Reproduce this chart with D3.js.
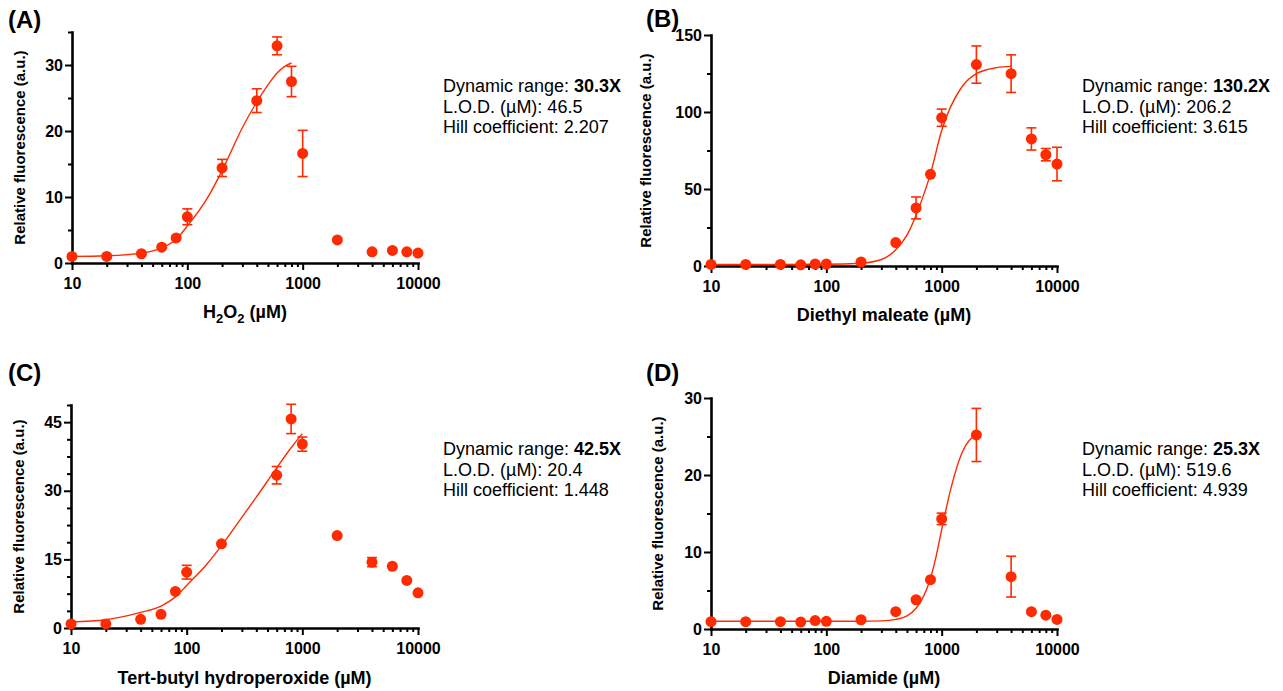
<!DOCTYPE html>
<html>
<head>
<meta charset="utf-8">
<script src="https://cdnjs.cloudflare.com/ajax/libs/d3/7.8.5/d3.min.js"></script>
<style>
  body { margin: 0; background: #fff; }
  svg { display: block; font-family: "Liberation Sans", Arial, sans-serif; }
</style>
</head>
<body>
<div id="chart"></div>
<script>
// concentrations (uM), same for every panel
const conc = [10, 20, 40, 60, 80, 100, 200, 400, 600, 800, 1000, 2000, 4000, 6000, 8000, 10000];

// (A) H2O2
const valuesA = [1.0, 1.0, 1.4, 2.4, 3.8, 7.0, 14.4, 24.6, 32.9, 27.5, 16.6, 3.5, 1.7, 1.9, 1.7, 1.5];
const errorsA = [0, 0, 0, 0, 0, 1.2, 1.3, 1.8, 1.35, 2.3, 3.5, 0, 0, 0, 0, 0];
const fitXA = [10, 20, 40, 60, 80, 100, 150, 200, 300, 400, 500, 600, 700, 800];
const fitYA = [1.0, 1.1, 1.5, 2.3, 3.6, 5.6, 9.9, 14.0, 20.5, 24.4, 27.0, 28.8, 29.8, 30.3];

// (B) Diethyl maleate
const valuesB = [1.0, 1.0, 1.0, 0.8, 1.3, 1.3, 2.6, 15.2, 37.7, 59.5, 96.3, 130.8, 124.9, 82.5, 72.3, 66.2];
const errorsB = [0, 0, 0, 0, 0, 0, 0, 0, 7.1, 0, 5.6, 12.1, 12.2, 7.2, 4.0, 10.9];
const fitXB = [10, 100, 200, 300, 400, 500, 600, 700, 800, 1000, 1500, 2000, 3000, 4000];
const fitYB = [1.0, 1.1, 1.8, 4.2, 10.5, 20.0, 33.0, 46.5, 60.0, 88.0, 116.4, 124.9, 128.8, 129.6];

// (C) Tert-butyl hydroperoxide
const valuesC = [0.9, 0.9, 1.9, 3.0, 8.0, 12.2, 18.4, null, 33.4, 45.7, 40.2, 20.2, 14.4, 13.5, 10.4, 7.7];
const errorsC = [0, 0, 0, 0, 0, 1.5, 0, 0, 1.9, 3.2, 1.55, 0, 1.0, 0, 0, 0];
const fitXC = [10, 20, 40, 60, 80, 100, 150, 200, 300, 400, 600, 800, 1000];
const fitYC = [1.3, 1.8, 3.4, 4.8, 6.8, 9.3, 14.0, 18.0, 24.2, 28.6, 35.0, 39.4, 42.5];

// (D) Diamide
const valuesD = [0.95, 0.95, 0.95, 0.9, 1.1, 1.0, 1.2, 2.25, 3.8, 6.4, 14.3, 25.2, 6.8, 2.25, 1.8, 1.25];
const errorsD = [0, 0, 0, 0, 0, 0, 0, 0, 0, 0, 0.75, 3.45, 2.65, 0, 0, 0];
const fitXD = [10, 100, 200, 300, 400, 500, 600, 700, 800, 900, 1000, 1200, 1500, 2000];
const fitYD = [1.0, 1.0, 1.0, 1.05, 1.25, 1.7, 2.7, 4.3, 6.6, 9.6, 12.9, 18.2, 22.9, 25.3];

const xMajor = [10, 100, 1000, 10000];
const xMinor = [20, 30, 40, 50, 60, 70, 80, 90, 200, 300, 400, 500, 600, 700, 800, 900,
  2000, 3000, 4000, 5000, 6000, 7000, 8000, 9000];

const dynamicRange = ["30.3X", "130.2X", "42.5X", "25.3X"];
const lod = ["46.5", "206.2", "20.4", "519.6"];
const hill = ["2.207", "3.615", "1.448", "4.939"];
const xTitles = ["H2O2", "Diethyl maleate", "Tert-butyl hydroperoxide", "Diamide"];
const panelLabels = ["(A)", "(B)", "(C)", "(D)"];

const red = "#ff2a00";

const panels = [
  { values: valuesA, errors: errorsA, fitX: fitXA, fitY: fitYA, yMax: 35, yMajor: [0, 10, 20, 30], yStep: 5,
    left: 72, right: 418, top: 32, bottom: 263, labelX: 8, labelY: 28, textX: 443, textY: 92, yTitleX: 25, xTitleY: 318 },
  { values: valuesB, errors: errorsB, fitX: fitXB, fitY: fitYB, yMax: 150, yMajor: [0, 50, 100, 150], yStep: 25,
    left: 711, right: 1057, top: 35, bottom: 266, labelX: 646, labelY: 27, textX: 1082, textY: 92, yTitleX: 651, xTitleY: 321 },
  { values: valuesC, errors: errorsC, fitX: fitXC, fitY: fitYC, yMax: 48.75, yMajor: [0, 15, 30, 45], yStep: 3.75,
    left: 71, right: 418, top: 405, bottom: 628, labelX: 8, labelY: 381, textX: 443, textY: 455, yTitleX: 24, xTitleY: 684 },
  { values: valuesD, errors: errorsD, fitX: fitXD, fitY: fitYD, yMax: 30, yMajor: [0, 10, 20, 30], yStep: 5,
    left: 711, right: 1057, top: 398, bottom: 629, labelX: 646, labelY: 381, textX: 1082, textY: 455, yTitleX: 663, xTitleY: 684 }
];

const svg = d3.select("#chart").append("svg")
  .attr("width", 1283)
  .attr("height", 691);

panels.forEach((p, i) => {
  const g = svg.append("g");

  const x = d3.scaleLog().domain([10, 10000]).range([p.left, p.right]);
  const y = d3.scaleLinear().domain([0, p.yMax]).range([p.bottom, p.top]);

  const yMinor = d3.range(0, p.yMax + 0.001, p.yStep).filter(v => !p.yMajor.includes(v));

  // minor ticks first, then main axes on top
  g.append("g")
    .attr("transform", `translate(0,${p.bottom})`)
    .call(d3.axisBottom(x).tickValues(xMinor).tickSize(4).tickFormat("").tickSizeOuter(0))
    .call(a => a.select(".domain").remove());

  g.append("g")
    .attr("transform", `translate(${p.left},0)`)
    .call(d3.axisLeft(y).tickValues(yMinor).tickSize(4).tickFormat("").tickSizeOuter(0))
    .call(a => a.select(".domain").remove());

  g.append("g")
    .attr("transform", `translate(0,${p.bottom})`)
    .call(d3.axisBottom(x).tickValues(xMajor).tickFormat(d3.format("d")).tickSize(7).tickPadding(8).tickSizeOuter(0));

  g.append("g")
    .attr("transform", `translate(${p.left},0)`)
    .call(d3.axisLeft(y).tickValues(p.yMajor).tickSize(7).tickPadding(2).tickSizeOuter(0));

  g.selectAll(".domain").attr("stroke", "#000").attr("stroke-width", 2.6).attr("stroke-linecap", "square");
  g.selectAll(".tick line").attr("stroke", "#000").attr("stroke-width", 2);
  g.selectAll(".tick text")
    .attr("fill", "#000")
    .style("font-size", "16px")
    .style("font-weight", "bold")
    .style("font-family", "'Liberation Sans', Arial, sans-serif");

  // fitted curve
  const fit = p.fitX.map((c, k) => ({ c: c, v: p.fitY[k] }));
  g.append("path")
    .datum(fit)
    .attr("fill", "none")
    .attr("stroke", red)
    .attr("stroke-width", 1.4)
    .attr("d", d3.line().x(d => x(d.c)).y(d => y(d.v)).curve(d3.curveMonotoneX));

  const pts = conc.map((c, k) => ({ c: c, v: p.values[k], e: p.errors[k] })).filter(d => d.v != null);

  // error bars
  const bars = g.selectAll(".err").data(pts.filter(d => d.e > 0)).enter().append("g")
    .attr("stroke", red).attr("stroke-width", 1.6);
  bars.append("line")
    .attr("x1", d => x(d.c)).attr("x2", d => x(d.c))
    .attr("y1", d => y(d.v - d.e)).attr("y2", d => y(d.v + d.e));
  bars.append("line")
    .attr("x1", d => x(d.c) - 5).attr("x2", d => x(d.c) + 5)
    .attr("y1", d => y(d.v + d.e)).attr("y2", d => y(d.v + d.e));
  bars.append("line")
    .attr("x1", d => x(d.c) - 5).attr("x2", d => x(d.c) + 5)
    .attr("y1", d => y(d.v - d.e)).attr("y2", d => y(d.v - d.e));

  g.selectAll(".dot").data(pts).enter().append("circle")
    .attr("cx", d => x(d.c))
    .attr("cy", d => y(d.v))
    .attr("r", 5.5)
    .attr("fill", red);

  // axis titles
  g.append("text")
    .attr("transform", `translate(${p.yTitleX},${(p.top + p.bottom) / 2}) rotate(-90)`)
    .attr("text-anchor", "middle")
    .style("font-size", "15px")
    .style("font-weight", "bold")
    .text("Relative fluorescence (a.u.)");

  const xt = g.append("text")
    .attr("x", (p.left + p.right) / 2)
    .attr("y", p.xTitleY)
    .attr("text-anchor", "middle")
    .style("font-size", "18px")
    .style("font-weight", "bold");
  if (i === 0) {
    xt.append("tspan").text("H");
    xt.append("tspan").attr("dy", 5).style("font-size", "13px").text("2");
    xt.append("tspan").attr("dy", -5).text("O");
    xt.append("tspan").attr("dy", 5).style("font-size", "13px").text("2");
    xt.append("tspan").attr("dy", -5).text(" (\u00b5M)");
  } else {
    xt.text(xTitles[i] + " (\u00b5M)");
  }

  // panel letter
  g.append("text")
    .attr("x", p.labelX)
    .attr("y", p.labelY)
    .style("font-size", "24px")
    .style("font-weight", "bold")
    .text(panelLabels[i]);

  // fit statistics
  const lines = [
    [["Dynamic range: ", "normal"], [dynamicRange[i], "bold"]],
    [["L.O.D. (\u00b5M): " + lod[i], "normal"]],
    [["Hill coefficient: " + hill[i], "normal"]]
  ];
  lines.forEach((parts, k) => {
    const t = g.append("text")
      .attr("x", p.textX)
      .attr("y", p.textY + k * 20.5)
      .style("font-size", "18px");
    parts.forEach(pt => t.append("tspan").style("font-weight", pt[1]).text(pt[0]));
  });
});
</script>
</body>
</html>
